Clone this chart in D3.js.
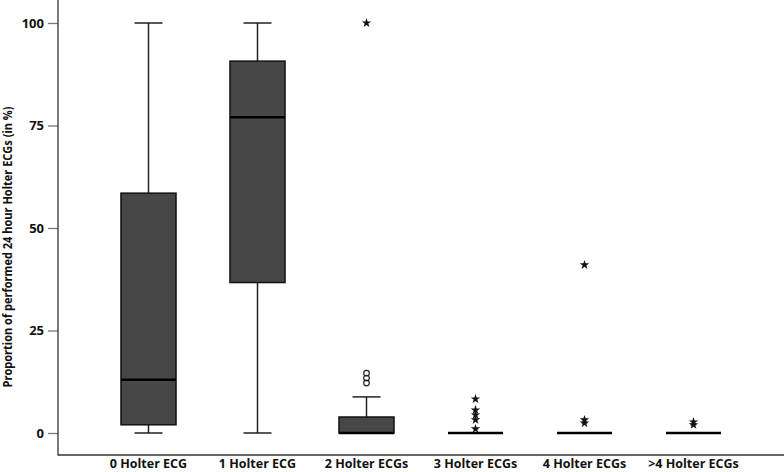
<!DOCTYPE html>
<html>
<head>
<meta charset="utf-8">
<script src="https://cdn.jsdelivr.net/npm/d3@7"></script>
<style>
  body { margin: 0; background: #fff; }
  text { font-family: "Open Sans", "Liberation Sans", sans-serif; font-weight: bold; fill: #111; }
</style>
</head>
<body>
<div id="chart"></div>
<script>
// box plot statistics
var categories = ["0 Holter ECG", "1 Holter ECG", "2 Holter ECGs", "3 Holter ECGs", "4 Holter ECGs", ">4 Holter ECGs"];
var whiskLow  = [0,    0,    0,   0, 0, 0];
var q1        = [2,    36.7, 0,   0, 0, 0];
var median    = [13,   77,   0,   0, 0, 0];
var q3        = [58.5, 90.7, 3.9, 0, 0, 0];
var whiskHigh = [100,  100,  8.8, 0, 0, 0];
// outliers (circles) and extreme values (stars)
var outCat  = [2, 2, 2];
var outVal  = [12.2, 13.4, 14.6];
var extCat  = [2, 3, 3, 3, 3, 3, 4, 4, 4, 5, 5];
var extVal  = [100, 8.3, 5.6, 4.4, 3.2, 1, 41, 3.2, 2.4, 2.7, 2];
var yTicks  = [0, 25, 50, 75, 100];

var width = 784, height = 472;
var margin = {top: 0, right: 0, bottom: 17, left: 58};

var svg = d3.select("#chart").append("svg")
    .attr("width", width)
    .attr("height", height);

var y = d3.scaleLinear()
    .domain([0, 100])
    .range([433, 23]);

var x = d3.scaleBand()
    .domain(categories)
    .range([94, 748])
    .paddingInner(0.495)
    .paddingOuter(0.2475);

// axes
var yAxis = svg.append("g")
    .attr("transform", "translate(" + margin.left + ",0)")
    .call(d3.axisLeft(y).tickValues(yTicks).tickSize(10).tickPadding(4).tickFormat(d3.format("d")));
yAxis.select(".domain").remove();
yAxis.selectAll(".tick line").attr("stroke", "#777").attr("stroke-width", 1.3);
yAxis.selectAll(".tick text").style("font-size", "13px").attr("fill", "#111");

svg.append("line")
    .attr("x1", margin.left).attr("x2", margin.left)
    .attr("y1", 0).attr("y2", 455.5)
    .attr("stroke", "#333").attr("stroke-width", 1.3);
svg.append("line")
    .attr("x1", margin.left).attr("x2", width)
    .attr("y1", 455).attr("y2", 455)
    .attr("stroke", "#333").attr("stroke-width", 1.3);

svg.append("g").selectAll("text")
    .data(categories)
    .enter().append("text")
    .attr("x", function(d) { return x(d) + x.bandwidth() / 2; })
    .attr("y", 468)
    .attr("text-anchor", "middle")
    .style("font-size", "12.5px")
    .text(function(d) { return d; });

svg.append("text")
    .attr("transform", "translate(12," + 247 + ") rotate(-90)")
    .attr("text-anchor", "middle")
    .attr("textLength", 281)
    .attr("lengthAdjust", "spacingAndGlyphs")
    .style("font-size", "11.5px")
    .text("Proportion of performed 24 hour Holter ECGs (in %)");

// boxes
var cx = function(i) { return x(categories[i]) + x.bandwidth() / 2; };
var capW = 28;

categories.forEach(function(c, i) {
    var g = svg.append("g");
    // whiskers
    g.append("line")
        .attr("x1", cx(i)).attr("x2", cx(i))
        .attr("y1", y(whiskHigh[i])).attr("y2", y(q3[i]))
        .attr("stroke", "#222").attr("stroke-width", 1.5);
    g.append("line")
        .attr("x1", cx(i)).attr("x2", cx(i))
        .attr("y1", y(q1[i])).attr("y2", y(whiskLow[i]))
        .attr("stroke", "#222").attr("stroke-width", 1.5);
    if (whiskHigh[i] > q3[i]) {
        g.append("line")
            .attr("x1", cx(i) - capW / 2).attr("x2", cx(i) + capW / 2)
            .attr("y1", y(whiskHigh[i])).attr("y2", y(whiskHigh[i]))
            .attr("stroke", "#222").attr("stroke-width", 1.5);
    }
    if (whiskLow[i] < q1[i]) {
        g.append("line")
            .attr("x1", cx(i) - capW / 2).attr("x2", cx(i) + capW / 2)
            .attr("y1", y(whiskLow[i])).attr("y2", y(whiskLow[i]))
            .attr("stroke", "#222").attr("stroke-width", 1.5);
    }
    // box
    g.append("rect")
        .attr("x", x(c))
        .attr("y", y(q3[i]))
        .attr("width", x.bandwidth())
        .attr("height", Math.max(0, y(q1[i]) - y(q3[i])))
        .attr("fill", "#474747")
        .attr("stroke", "#111")
        .attr("stroke-width", 1.5);
    // median
    g.append("line")
        .attr("x1", x(c)).attr("x2", x(c) + x.bandwidth())
        .attr("y1", y(median[i])).attr("y2", y(median[i]))
        .attr("stroke", "#000").attr("stroke-width", 2.5);
});

// outliers
svg.append("g").selectAll("circle")
    .data(outVal)
    .enter().append("circle")
    .attr("cx", function(d, i) { return cx(outCat[i]); })
    .attr("cy", function(d) { return y(d); })
    .attr("r", 2.8)
    .attr("fill", "none")
    .attr("stroke", "#222")
    .attr("stroke-width", 1.2);

var star = d3.symbol().type(d3.symbolStar).size(28);
svg.append("g").selectAll("path")
    .data(extVal)
    .enter().append("path")
    .attr("d", star)
    .attr("transform", function(d, i) { return "translate(" + cx(extCat[i]) + "," + y(d) + ")"; })
    .attr("fill", "#111");
</script>
</body>
</html>
